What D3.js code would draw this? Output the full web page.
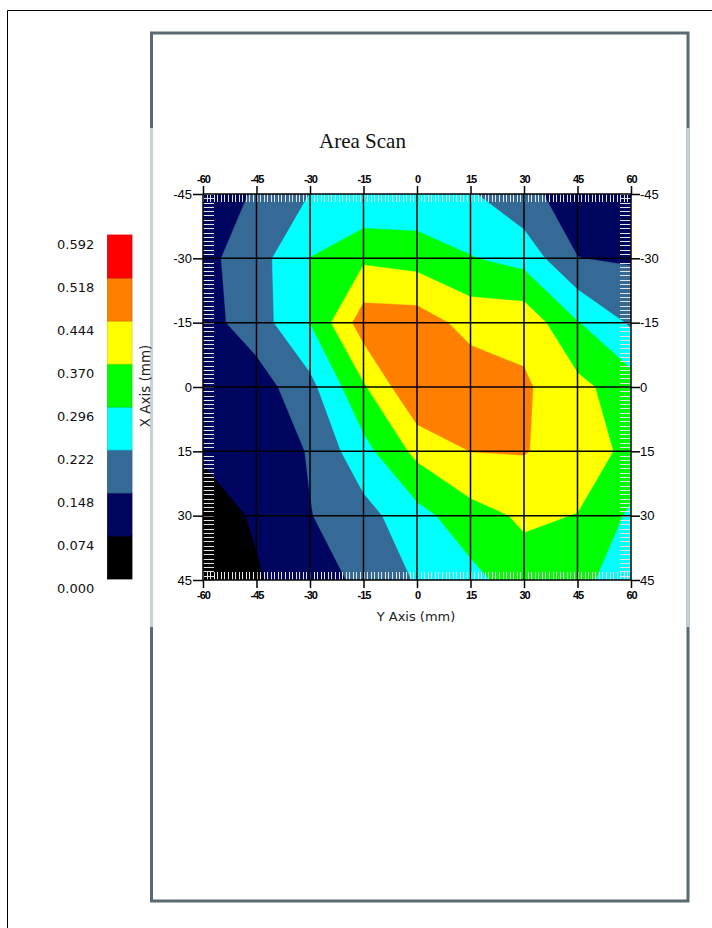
<!DOCTYPE html>
<html><head><meta charset="utf-8">
<script src="https://cdn.jsdelivr.net/npm/d3@7"></script>
<style>html,body{margin:0;padding:0;background:#fff;} svg{display:block;}</style>
</head><body>
<svg id="chart" width="712" height="928"></svg>
<script>
// ---- data ----
const xValues = [-60, -45, -30, -15, 0, 15, 30, 45, 60];   // Y Axis (mm), horizontal
const yValues = [-45, -30, -15, 0, 15, 30, 45];             // X Axis (mm), vertical
const rowYm45 = [0.115, 0.154, 0.223, 0.227, 0.236, 0.230, 0.164, 0.120, 0.110];
const rowYm30 = [0.126, 0.191, 0.297, 0.357, 0.340, 0.300, 0.269, 0.149, 0.140];
const rowYm15 = [0.119, 0.186, 0.2965, 0.483, 0.482, 0.417, 0.420, 0.300, 0.212];
const rowY0   = [0.100, 0.113, 0.200, 0.360, 0.519, 0.494, 0.455, 0.390, 0.329];
const rowY15  = [0.080, 0.085, 0.155, 0.271, 0.390, 0.445, 0.448, 0.410, 0.350];
const rowY30  = [0.050, 0.080, 0.145, 0.196, 0.270, 0.342, 0.381, 0.368, 0.283];
const rowY45  = [0.030, 0.069, 0.103, 0.170, 0.228, 0.272, 0.339, 0.314, 0.260];
const levels = [0.000, 0.074, 0.148, 0.222, 0.296, 0.370, 0.444, 0.518, 0.592];
const levelColors = ["#000000", "#00065f", "#356a96", "#00ffff", "#00ff00", "#ffff00", "#ff8000", "#ff0000"];
const xTickValues = [-60, -45, -30, -15, 0, 15, 30, 45, 60];
const yTickValues = [-45, -30, -15, 0, 15, 30, 45];
const titleText = "Area Scan";
const xTitle = "Y Axis (mm)";
const yTitle = "X Axis (mm)";

// ---- layout ----
const svg = d3.select("#chart");
const xScale = d3.scaleLinear().domain([-60, 60]).range([203, 631]);
const yScale = d3.scaleLinear().domain([-45, 45]).range([194, 580]);
const legendScale = d3.scaleLinear().domain([0, 0.592]).range([579, 235]);

// frames
svg.append("path").attr("d", "M7.5,928 V10.5 H712").attr("fill", "none").attr("stroke", "#000").attr("stroke-width", 1);
svg.append("rect").attr("x", 151.5).attr("y", 33).attr("width", 536.5).attr("height", 868)
  .attr("fill", "none").attr("stroke", "#5b6970").attr("stroke-width", 3);
[151.5, 688].forEach(x => svg.append("line").attr("x1", x).attr("x2", x).attr("y1", 128).attr("y2", 627)
  .attr("stroke", "#c9d2d5").attr("stroke-width", 3.2));

// title
svg.append("text").attr("x", 362.5).attr("y", 148).attr("text-anchor", "middle")
  .attr("font-family", "Liberation Serif, Times New Roman, serif").attr("font-size", 21)
  .attr("fill", "#111").text(titleText);

// ---- contours ----
const rows = [rowYm45, rowYm30, rowYm15, rowY0, rowY15, rowY30, rowY45];
const nx = xValues.length, ny = yValues.length;
const pw = nx + 2, ph = ny + 2;
const grid = new Array(pw * ph);
for (let j = 0; j < ph; j++) for (let i = 0; i < pw; i++) {
  const si = Math.min(nx - 1, Math.max(0, i - 1)), sj = Math.min(ny - 1, Math.max(0, j - 1));
  grid[j * pw + i] = rows[sj][si];
}
const bands = d3.contours().size([pw, ph]).thresholds(levels.slice(0, 8))(grid);
const xStep = xValues[1] - xValues[0], yStep = yValues[1] - yValues[0];
const proj = d3.geoTransform({
  point(x, y) {
    this.stream.point(xScale(xValues[0] + (x - 1.5) * xStep), yScale(yValues[0] + (y - 1.5) * yStep));
  }
});
const path = d3.geoPath(proj);
svg.append("clipPath").attr("id", "plotClip").append("rect")
  .attr("x", xScale(-60)).attr("y", yScale(-45))
  .attr("width", xScale(60) - xScale(-60)).attr("height", yScale(45) - yScale(-45));
const gPlot = svg.append("g").attr("clip-path", "url(#plotClip)");
gPlot.selectAll("path.band").data(bands).join("path").attr("class", "band")
  .attr("d", path).attr("fill", (d, i) => levelColors[i])
  .attr("stroke", (d, i) => levelColors[i]).attr("stroke-width", 0.4);

// minor ticks (light dashes inside the edges)
const minorX = d3.range(-60, 61, 1), minorY = d3.range(-45, 46, 1);
const gMinor = svg.append("g").attr("stroke", "#e4e4e4").attr("stroke-width", 1);
minorX.forEach(v => {
  const x = Math.round(xScale(v)) + 0.5;
  gMinor.append("line").attr("x1", x).attr("x2", x).attr("y1", yScale(-45)).attr("y2", yScale(-45) + 8);
  gMinor.append("line").attr("x1", x).attr("x2", x).attr("y1", yScale(45)).attr("y2", yScale(45) - 8);
});
minorY.forEach(v => {
  const y = Math.round(yScale(v)) + 0.5;
  gMinor.append("line").attr("x1", xScale(-60)).attr("x2", xScale(-60) + 11).attr("y1", y).attr("y2", y);
  gMinor.append("line").attr("x1", xScale(60)).attr("x2", xScale(60) - 11).attr("y1", y).attr("y2", y);
});

// grid lines
const gGrid = svg.append("g").attr("stroke", "#000").attr("stroke-width", 1.5);
xTickValues.forEach(v => gGrid.append("line").attr("x1", xScale(v)).attr("x2", xScale(v))
  .attr("y1", yScale(-45)).attr("y2", yScale(45)));
yTickValues.forEach(v => gGrid.append("line").attr("y1", yScale(v)).attr("y2", yScale(v))
  .attr("x1", xScale(-60)).attr("x2", xScale(60)));

// axes
const fmt = d => String(d);
function styleAxis(g, size, weight, spacing) {
  g.select(".domain").remove();
  g.selectAll(".tick line").attr("stroke", "#000").attr("stroke-width", 1.5);
  g.selectAll(".tick text").attr("fill", "#000").attr("font-size", size)
    .attr("font-family", "Liberation Sans, Arial, sans-serif").attr("font-weight", weight)
    .attr("letter-spacing", spacing);
}
svg.append("g").attr("transform", `translate(0,${yScale(-45)})`)
  .call(d3.axisTop(xScale).tickValues(xTickValues).tickFormat(fmt).tickSize(8).tickPadding(3))
  .call(g => styleAxis(g, 11, "bold", "-1px"));
svg.append("g").attr("transform", `translate(0,${yScale(45)})`)
  .call(d3.axisBottom(xScale).tickValues(xTickValues).tickFormat(fmt).tickSize(8).tickPadding(3))
  .call(g => styleAxis(g, 11, "bold", "-1px"));
svg.append("g").attr("transform", `translate(${xScale(-60)},0)`)
  .call(d3.axisLeft(yScale).tickValues(yTickValues).tickFormat(fmt).tickSize(10).tickPadding(1))
  .call(g => styleAxis(g, 13, "normal", "0px"));
svg.append("g").attr("transform", `translate(${xScale(60)},0)`)
  .call(d3.axisRight(yScale).tickValues(yTickValues).tickFormat(fmt).tickSize(9).tickPadding(0))
  .call(g => styleAxis(g, 13, "normal", "0px"));

// axis titles
svg.append("text").attr("x", 416).attr("y", 621).attr("text-anchor", "middle")
  .attr("font-family", "DejaVu Sans, Verdana, sans-serif").attr("font-size", 13).attr("fill", "#222").text(xTitle);
svg.append("text").attr("transform", "translate(150,386) rotate(-90)").attr("text-anchor", "middle")
  .attr("font-family", "DejaVu Sans, Verdana, sans-serif").attr("font-size", 13.5).attr("fill", "#222").text(yTitle);

// legend
const gLeg = svg.append("g");
levelColors.forEach((c, i) => {
  gLeg.append("rect").attr("x", 107.5).attr("width", 24.5)
    .attr("y", legendScale(levels[i + 1])).attr("height", legendScale(levels[i]) - legendScale(levels[i + 1]))
    .attr("fill", c).attr("stroke", d3.color(c).darker(0.4)).attr("stroke-width", 0.8);
});
levels.forEach(v => {
  gLeg.append("text").attr("x", 57).attr("y", legendScale(v) + 9.5).attr("dy", "0.35em")
    .attr("font-family", "DejaVu Sans, Verdana, sans-serif").attr("font-size", 13).attr("fill", "#111")
    .text(d3.format(".3f")(v));
});
</script>
</body></html>
